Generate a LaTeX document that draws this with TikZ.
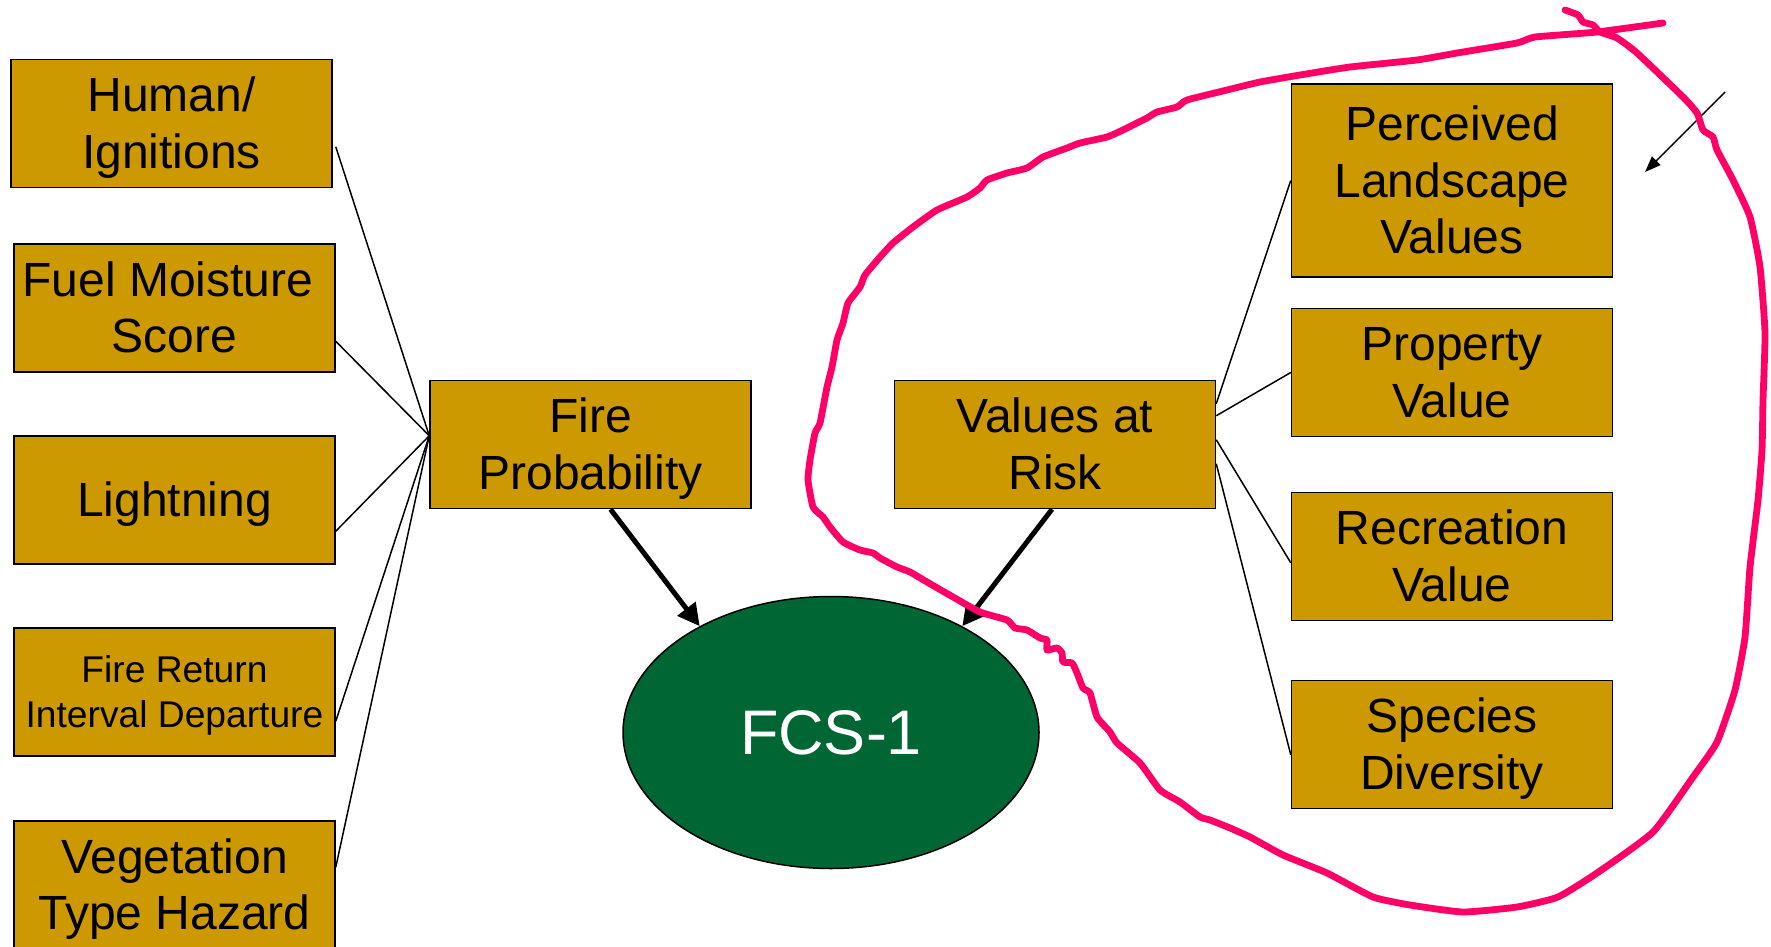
\documentclass[tikz,border=0pt]{standalone}
\usepackage{fontspec}
\setmainfont{Liberation Sans}
\usetikzlibrary{shapes.geometric,arrows.meta,calc}
\definecolor{boxgold}{RGB}{204,153,0}
\definecolor{fcsgreen}{RGB}{0,102,51}
\definecolor{inkpink}{RGB}{255,0,102}
% full line-box strut: ascent and descent of the font
\newcommand{\ls}{\rule[-0.212em]{0pt}{1.117em}}

\begin{document}
\begin{tikzpicture}[x=0.5pt,y=-0.5pt,
  factor/.style={draw=black, line width=0.75pt, fill=boxgold, rectangle,
    inner sep=0pt, minimum width=160.5pt, minimum height=64pt, align=center,
    font={\fontsize{24}{28.25}\selectfont}},
  smalltext/.style={font={\fontsize{18.6}{22.5}\selectfont}},
  tall/.style={minimum height=96.5pt},
  score/.style={draw=black, line width=0.75pt, fill=fcsgreen, ellipse,
    inner sep=0pt, minimum width=208pt, minimum height=136pt,
    text=white, font={\fontsize{31.5}{36}\selectfont}},
  link/.style={draw=black, line width=0.75pt},
  feed/.style={draw=black, line width=2.5pt, -{Triangle[length=11pt,width=11pt]}},
  pointer/.style={draw=black, line width=0.7pt, -{Triangle[length=8pt,width=6pt]}},
  ink/.style={draw=inkpink, line width=3.4pt, line join=round, line cap=round}]

\useasboundingbox (0,0) rectangle (1771,947);

% input factors on the left
\node[factor] (hum)   at (171.5,123.5) {Human/\ls\\Ignitions\ls};
\node[factor] (fuel)  at (174.5,308)   {Fuel Moisture\hspace*{0.278em}\ls\\Score\ls};
\node[factor] (light) at (174.5,500)   {Lightning\ls};
\node[factor, smalltext] (fri) at (174.5,692) {Fire Return\ls\\Interval Departure\ls};
\node[factor] (veg)   at (174.5,885)   {Vegetation\ls\\Type Hazard\ls};

% intermediate scores
\node[factor] (fp)  at (590.5,444.5) {Fire\ls\\Probability\ls};
\node[factor] (var) at (1055,444.5)  {Values at\ls\\Risk\ls};

% value factors on the right
\node[factor, tall] (plv) at (1452,180.5) {Perceived\ls\\Landscape\ls\\Values\ls};
\node[factor] (prop) at (1452,372.5) {Property\ls\\Value\ls};
\node[factor] (rec)  at (1452,556.5) {Recreation\ls\\Value\ls};
\node[factor] (spec) at (1452,744.5) {Species\ls\\Diversity\ls};

% final score
\node[score] (fcs) at (831,732.5) {FCS-1\ls};

% inputs converge on Fire Probability
\coordinate (fpin) at ($(fp.north west)+(0,56)$);
\draw[link] ($(hum.north east)+(3,88)$)   -- (fpin);
\draw[link] ($(fuel.north east)+(0,98)$)  -- (fpin);
\draw[link] ($(light.north east)+(0,96)$) -- (fpin);
\draw[link] ($(fri.north east)+(0,94)$)   -- (fpin);
\draw[link] ($(veg.north east)+(0,47)$)   -- (fpin);

% values fan out from Values at Risk
\draw[link] ($(var.north east)+(0,24)$) -- (plv.west);
\draw[link] ($(var.north east)+(0,36)$) -- (prop.west);
\draw[link] ($(var.north east)+(0,60)$) -- ($(rec.north west)+(0,71)$);
\draw[link] ($(var.north east)+(0,84)$) -- ($(spec.north west)+(0,75)$);

% both scores feed FCS-1
\draw[feed] ($(fp.south)+(20,0)$)  -- (fcs.141);
\draw[feed] ($(var.south)+(-3,0)$) -- (fcs.39);

% hand-drawn annotation
\coordinate (ptail) at (1725,92);
\coordinate (phead) at (1645,172);
\draw[pointer] (ptail) -- (phead);

\draw[ink] plot[smooth, tension=0.3] coordinates {
 (1663,23) (1597,32) (1535,37) (1517,43) (1457,53) (1417,60) (1350,67)
 (1300,75) (1260,82) (1227,90) (1187,100) (1177,107) (1157,112) (1147,118)
 (1137,123) (1123,130) (1107,137) (1080,143) (1067,148) (1043,157)
 (1027,168) (1007,173) (987,180) (980,188) (967,197) (937,210) (913,227)
 (893,243) (880,257) (865,275) (860,287) (848,303) (843,323) (837,340)
 (832,367) (827,387) (820,423) (815,433) (810,460) (808,480) (813,507)
 (823,517) (830,527) (843,542) (860,550) (873,553) (880,558) (897,567)
 (910,572) (927,582) (953,597) (980,612) (1007,620) (1015,628) (1027,630)
 (1040,638) (1047,640) (1047,650) (1057,648) (1062,653) (1063,662)
 (1072,663) (1077,673) (1083,688) (1090,693) (1097,717) (1110,732)
 (1117,743) (1140,763) (1160,790) (1180,802) (1200,817) (1210,820)
 (1230,828) (1250,837) (1283,855) (1327,873) (1373,897) (1410,905)
 (1463,912) (1517,907) (1558,897) (1597,873) (1653,832) (1693,777)
 (1717,742) (1735,690) (1745,637) (1750,567) (1758,500) (1762,450)
 (1763,400) (1765,333) (1760,267) (1750,217) (1733,180) (1717,150)
 (1713,137) (1703,130) (1697,113) (1683,97) (1637,53) (1617,38) (1600,32)
 (1593,25) (1583,22) (1578,15) (1565,10)};

\end{tikzpicture}
\end{document}
